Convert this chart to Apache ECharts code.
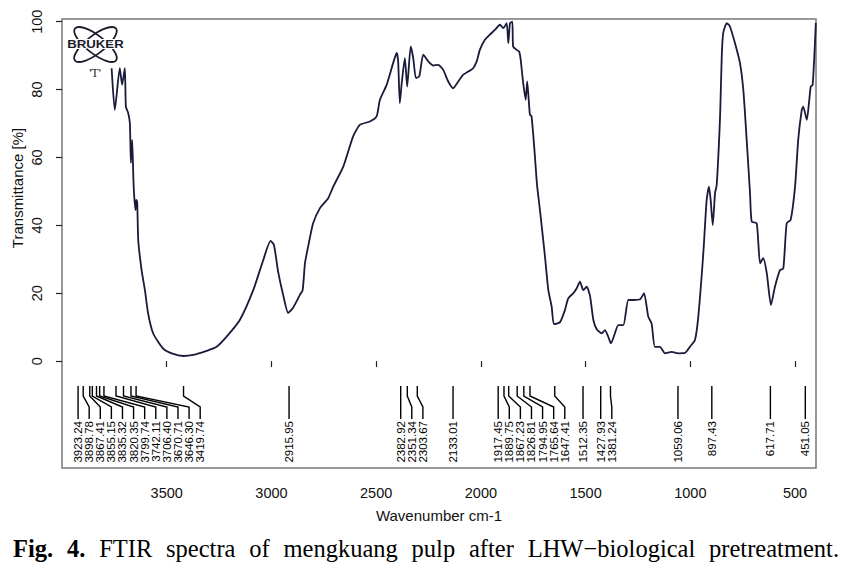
<!DOCTYPE html>
<html><head><meta charset="utf-8">
<script src="https://cdn.jsdelivr.net/npm/echarts@6/dist/echarts.min.js"></script>
<style>html,body{margin:0;padding:0;background:#fff}#c{width:850px;height:563px}</style>
</head><body><div id="c"></div>
<script>
// Wavenumber (cm-1) of traced points, left to right
const wavenumbers = [3763,3748,3724,3713,3700,3695,3684,3676,3671,3665,
3659,3655,3649,3646,3641,3636,3620,3604,3589,3565,
3517,3469,3421,3374,3310,3262,3214,3151,3087,3039,
3004,2988,2968,2944,2920,2896,2864,2851,2840,2825,
2801,2769,2729,2705,2657,2610,2578,2530,2498,2482,
2450,2419,2402,2395,2387,2378,2363,2352,2335,2323,
2310,2294,2275,2251,2228,2204,2180,2156,2132,2108,
2084,2060,2037,2020,2005,1981,1957,1933,1909,1893,
1877,1869,1861,1850,1846,1829,1817,1810,1798,1786,
1779,1766,1758,1742,1732,1718,1694,1678,1662,1651,
1623,1599,1583,1559,1543,1527,1511,1495,1479,1463,
1447,1423,1408,1392,1379,1360,1344,1320,1296,1272,
1240,1221,1201,1185,1169,1145,1121,1089,1058,1026,
1002,978,962,938,922,911,903,893,882,874,
858,850,843,826,811,787,763,747,731,715,
707,683,667,652,635,615,596,572,556,540,
521,500,485,468,461,444,432,425,416,405,401];
// Transmittance [%]
const transmittance = [86.3,74.0,86.3,81.4,86.3,75.0,73.1,70.1,58.4,65.2,
53.4,48.4,44.5,47.5,46.9,35.7,26.8,20.9,14.1,8.2,
3.7,2.1,1.5,1.8,3.0,4.2,7.2,12.1,20.9,29.8,
35.4,34.2,26.3,19.5,14.2,15.8,19.5,20.9,28.8,33.7,
40.6,45.0,48.0,51.4,57.3,66.2,69.6,70.6,72.1,77.0,
81.4,87.8,90.8,88.3,76.0,81.9,89.3,80.9,92.7,89.3,
83.4,83.9,90.3,88.3,87.1,87.3,85.8,82.4,80.4,82.4,
84.4,85.3,86.3,88.3,91.7,94.7,96.2,97.6,99.1,98.1,
99.6,93.7,99.6,100,92.7,91.7,91.2,88.8,81.9,77.0,
82.4,72.6,72.1,60.3,51.9,44.5,30.8,20.9,16.0,10.9,
11.4,15.0,18.5,20.0,21.4,23.4,20.9,21.9,19.2,12.1,
9.4,8.2,9.1,7.2,5.2,8.2,10.6,10.6,18.0,18.0,
18.2,20.0,13.1,11.1,4.2,4.2,2.3,2.7,2.3,2.4,
4.2,6.2,13.1,31.8,47.5,51.4,47.5,40.1,49.5,51.9,
72.1,89.8,96.7,99.6,98.6,93.7,87.8,79.9,65.2,49.5,
41.1,40.6,28.8,30.3,25.9,16.5,21.9,26.8,27.3,40.6,
41.6,51.4,65.2,74.0,75.0,71.1,77.0,80.9,81.4,93.7,99.6];
const xTicks = [3500,3000,2500,2000,1500,1000,500];
const yTicks = [0,20,40,60,80,100];
const peakLabels = ['3923.24','3898.78','3867.41','3855.15','3835.32','3820.35','3799.74','3742.11',
'3706.40','3670.71','3646.30','3419.74','2915.95','2382.92','2351.34','2303.67','2133.01',
'1917.45','1889.75','1867.23','1826.81','1794.95','1765.64','1647.41','1512.35','1427.93',
'1381.24','1059.06','897.43','617.71','451.05'];
const xName = 'Wavenumber cm-1';
const yName = 'Transmittance [%]';
const captionWords = [['Fig.',true],['4.',true],['FTIR',false],['spectra',false],['of',false],['mengkuang',false],
['pulp',false],['after',false],['LHW\u2212biological',false],['pretreatment.',false]];

const SANS = '"Liberation Sans", Arial, Helvetica, sans-serif';
const SERIF = '"Liberation Serif", "Times New Roman", serif';
const chart = echarts.init(document.getElementById('c'), null, {renderer:'svg'});
const option = {
  animation:false,
  backgroundColor:'#fff',
  grid:{left:62,right:34,top:19,bottom:95,show:true,borderColor:'#777',borderWidth:1.5},
  xAxis:{type:'value',inverse:true,min:400,max:4000,
    axisLine:{show:false},splitLine:{show:false},
    axisTick:{show:true,customValues:xTicks,length:6,lineStyle:{color:'#222',width:1.2}},
    axisLabel:{customValues:xTicks,margin:17,fontSize:14.5,color:'#111',fontFamily:SANS,
      formatter:v=>String(v)},
    name:xName,nameLocation:'middle',nameGap:40,
    nameTextStyle:{fontSize:15,color:'#111',fontFamily:SANS}},
  yAxis:{type:'value',min:-31.5,max:100.8,
    axisLine:{show:false},splitLine:{show:false},
    axisTick:{show:true,customValues:yTicks,length:6,lineStyle:{color:'#222',width:1.2}},
    axisLabel:{customValues:yTicks,rotate:90,margin:18,fontSize:14.5,color:'#111',fontFamily:SANS,
      formatter:v=>String(v)}},
  series:[{type:'line',data:wavenumbers.map((w,i)=>[w,transmittance[i]]),showSymbol:false,
    smooth:0.2,lineStyle:{color:'#1a1a3a',width:1.8},clip:true}]
};
chart.setOption(option);

const g = [];
// y axis name
g.push({type:'text',x:17,y:188,rotation:Math.PI/2,
  style:{text:yName,fontSize:15,fontFamily:SANS,fill:'#111',align:'center',verticalAlign:'middle'}});
// peak labels with leader lines
let prev = -1e9;
peakLabels.forEach(p=>{
  const t = chart.convertToPixel({xAxisIndex:0}, parseFloat(p));
  const l = Math.max(t, prev + 11.1);
  prev = l;
  g.push({type:'polyline',shape:{points:[[t,386],[t,396],[l,407],[l,419]]},
    style:{stroke:'#000',lineWidth:1.4,fill:null}});
  g.push({type:'text',x:l,y:421,rotation:Math.PI/2,
    style:{text:p,fontSize:11.5,fontFamily:SANS,fill:'#000',align:'right',verticalAlign:'middle'}});
});
// Bruker logo
g.push({type:'ellipse',x:95.5,y:44.5,rotation:0.66,shape:{cx:0,cy:0,rx:26,ry:9},
  style:{stroke:'#1a1a2a',lineWidth:1.8,fill:null}});
g.push({type:'ellipse',x:95.5,y:44.5,rotation:-0.66,shape:{cx:0,cy:0,rx:26,ry:9},
  style:{stroke:'#1a1a2a',lineWidth:1.8,fill:null}});
g.push({type:'text',x:95.5,y:44.5,scaleX:1.2,
  style:{text:'BRUKER',fontSize:11,fontWeight:'bold',fontFamily:SANS,fill:'#1a1a2a',
    align:'center',verticalAlign:'middle',stroke:'#fff',lineWidth:2}});
g.push({type:'text',x:95,y:73,
  style:{text:"'T'",fontSize:12,fontFamily:SERIF,fill:'#1a1a2a',align:'center',verticalAlign:'middle'}});
// caption, justified
const ctx = document.createElement('canvas').getContext('2d');
const CF = 24.5, left = 13, right = 839;
const widths = captionWords.map(([w,b])=>{ctx.font=(b?'bold ':'')+CF+'px '+SERIF;return ctx.measureText(w).width;});
const sum = widths.reduce((a,b)=>a+b,0);
const gap = (right-left-sum)/(captionWords.length-1);
let cx = left;
captionWords.forEach(([w,b],i)=>{
  g.push({type:'text',x:cx,y:548,style:{text:w,fontSize:CF,fontWeight:b?'bold':'normal',fontFamily:SERIF,
    fill:'#000',align:'left',verticalAlign:'middle'}});
  cx += widths[i]+gap;
});
chart.setOption({graphic:g});
</script></body></html>
